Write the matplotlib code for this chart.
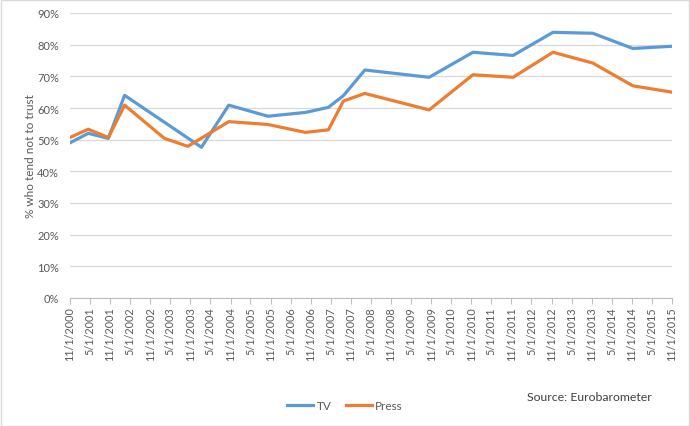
import matplotlib
matplotlib.use("Agg")
import matplotlib.pyplot as plt
import matplotlib.dates as mdates
import numpy as np
import pandas as pd
from matplotlib.patches import Rectangle

plt.rcParams['font.family'] = ['Lato', 'DejaVu Sans']

dates = ["2000-11-01", "2001-04-16", "2001-10-16", "2002-03-13", "2003-03-10",
         "2003-10-10", "2004-02-10", "2004-10-16", "2005-10-07", "2006-09-13",
         "2007-04-10", "2007-08-25", "2008-03-07", "2009-10-13", "2010-11-16",
         "2011-11-16", "2012-11-13", "2013-11-10", "2014-11-10", "2015-11-01"]
tv = [49.0, 52.0, 50.4, 64.0, np.nan, np.nan, 47.6, 60.9, 57.4, 58.6,
      60.2, 63.9, 72.0, 69.7, 77.6, 76.6, 83.9, 83.6, 78.8, 79.5]
press = [50.7, 53.3, 50.7, 60.9, 50.4, 47.9, np.nan, 55.7, 54.8, 52.3,
         53.1, 62.2, 64.6, 59.4, 70.5, 69.7, 77.6, 74.2, 67.0, 65.0]
series_names = ["TV", "Press"]
colors = ["#5B9BD5", "#ED7D31"]
x_start, x_end = "2000-11-01", "2015-11-01"
y_ticks = [0, 10, 20, 30, 40, 50, 60, 70, 80, 90]

d = pd.to_datetime(dates)

fig = plt.figure(figsize=(6.9, 4.27), dpi=100)
ax = fig.add_axes([70/690, 1-299/427, (672-70)/690, (299-14)/427])

for vals, name, c in zip([tv, press], series_names, colors):
    v = np.array(vals, dtype=float)
    m = ~np.isnan(v)
    ax.plot(d[m], v[m], color=c, lw=2.3, label=name, solid_joinstyle='round')

ax.set_xlim(pd.Timestamp(x_start), pd.Timestamp(x_end))
ax.set_ylim(0, 90)
ax.set_yticks(y_ticks)
ax.set_yticklabels([f"{t}%" for t in y_ticks])
ticks = pd.date_range(x_start, x_end, freq="6MS")
ax.set_xticks(ticks)
ax.set_xticklabels([f"{t.month}/{t.day}/{t.year}" for t in ticks], rotation=90)

ax.grid(axis='y', color='#d9d9d9', lw=0.9)
ax.set_axisbelow(True)
for s in ['top', 'right', 'left']:
    ax.spines[s].set_visible(False)
ax.spines['bottom'].set_color('#bfbfbf')
ax.tick_params(axis='y', length=0, labelsize=8, labelcolor='#595959', pad=8)
ax.tick_params(axis='x', length=4, color='#bfbfbf', labelsize=7.8,
               labelcolor='#595959', direction='out', pad=2)
ax.set_ylabel("% who tend not to trust", fontsize=8.5, color='#595959', labelpad=1)

fig.legend(loc='center', bbox_to_anchor=(0.5, 1-407/427), ncol=2, frameon=False,
           fontsize=8.5, handlelength=2.2, columnspacing=1.2, handletextpad=0.3,
           labelcolor='#595959')
fig.text(527/690, 1-398/427, "Source: Eurobarometer", fontsize=8.8, color='#404040',
         va='center', ha='left')

fig.patches.append(Rectangle((0.001, 0.001), 0.997, 0.997, transform=fig.transFigure,
                             fill=False, edgecolor='#d9d9d9', lw=1))

fig.savefig("out.png", dpi=100)
